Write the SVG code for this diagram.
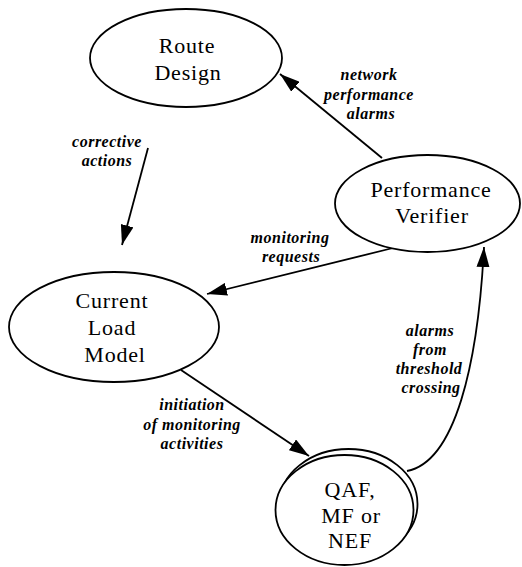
<svg xmlns="http://www.w3.org/2000/svg" width="522" height="567" viewBox="0 0 522 567">
  <style>
    .shape { fill: #ffffff; stroke: #000000; stroke-width: 1.8; }
    .name { font-family: "Liberation Serif", "Times New Roman", serif; font-size: 22px; letter-spacing: 0.8px; text-anchor: middle; fill: #000000; }
    .edge { fill: none; stroke: #000000; stroke-width: 1.8; marker-end: url(#arrow); }
    .label { font-family: "Liberation Serif", "Times New Roman", serif; font-size: 16px; font-weight: bold; font-style: italic; letter-spacing: 0.5px; text-anchor: middle; fill: #000000; }
  </style>
  <defs>
    <marker id="arrow" markerUnits="userSpaceOnUse" markerWidth="21" markerHeight="13" refX="20" refY="6.5" orient="auto">
      <path d="M0,0 L20,6.5 L0,13 z" fill="#000000"/>
    </marker>
  </defs>
  <rect width="522" height="567" fill="#ffffff"/>

  <!-- connectors -->
  <g id="connectors">
    <path class="edge" d="M382,158 L280,74"/>
    <path class="edge" d="M148,148 L122,245"/>
    <path class="edge" d="M393,248 L207,294"/>
    <path class="edge" d="M181,370 L309,456"/>
    <path class="edge" d="M407,471 C455,462 478,365 484,247"/>
  </g>

  <!-- connector labels -->
  <g id="edge-labels">
    <text class="label" x="369" y="80">network</text>
    <text class="label" x="369" y="100">performance</text>
    <text class="label" x="371" y="119">alarms</text>
    <text class="label" x="107" y="147">corrective</text>
    <text class="label" x="107" y="166">actions</text>
    <text class="label" x="290" y="243">monitoring</text>
    <text class="label" x="291" y="262">requests</text>
    <text class="label" x="192" y="410">initiation</text>
    <text class="label" x="192" y="430">of monitoring</text>
    <text class="label" x="192" y="449">activities</text>
    <text class="label" x="430" y="336">alarms</text>
    <text class="label" x="430" y="355">from</text>
    <text class="label" x="429" y="374">threshold</text>
    <text class="label" x="431" y="393">crossing</text>
  </g>

  <g id="route-design">
    <ellipse class="shape" cx="186" cy="58" rx="96" ry="49"/>
    <text class="name" x="187" y="53">Route</text>
    <text class="name" x="188" y="80">Design</text>
  </g>

  <g id="performance-verifier">
    <ellipse class="shape" cx="427.5" cy="203.5" rx="92.5" ry="48.5"/>
    <text class="name" x="431" y="197">Performance</text>
    <text class="name" x="432" y="223">Verifier</text>
  </g>

  <g id="current-load-model">
    <ellipse class="shape" cx="114" cy="327" rx="105" ry="55"/>
    <text class="name" x="112" y="308">Current</text>
    <text class="name" x="112" y="335">Load</text>
    <text class="name" x="115" y="362">Model</text>
  </g>

  <g id="qaf-mf-nef">
    <ellipse class="shape" cx="348.5" cy="504" rx="69" ry="55"/>
    <ellipse class="shape" cx="344.5" cy="510" rx="69" ry="55"/>
    <text class="name" x="350" y="497">QAF,</text>
    <text class="name" x="351" y="523">MF or</text>
    <text class="name" x="350" y="548">NEF</text>
  </g>
</svg>
